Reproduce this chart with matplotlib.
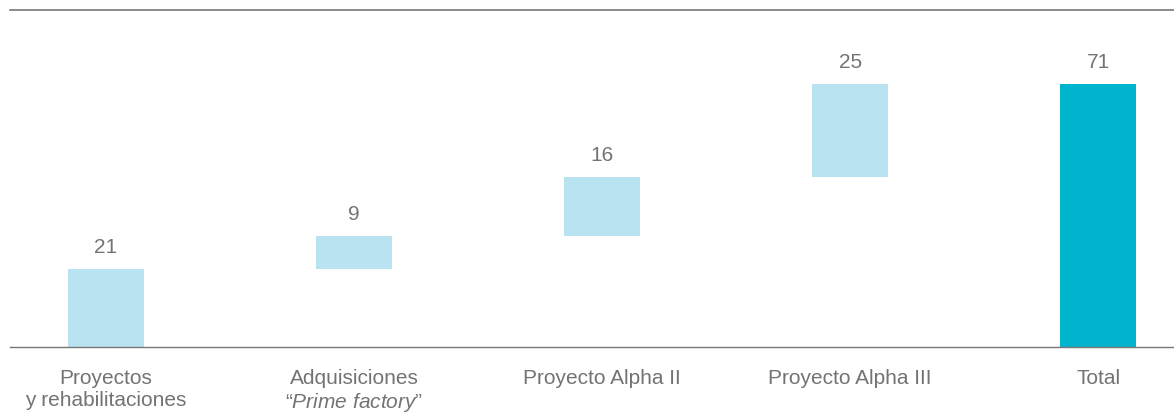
import matplotlib
matplotlib.use("Agg")
import matplotlib.pyplot as plt

plt.rcParams['font.family'] = ['Liberation Sans', 'DejaVu Sans']
plt.rcParams['mathtext.fontset'] = 'custom'
plt.rcParams['mathtext.it'] = 'Liberation Sans:italic'
plt.rcParams['mathtext.rm'] = 'Liberation Sans'

categories = ['Proyectos\ny rehabilitaciones',
              'Adquisiciones\n“$\\mathit{Prime\\ factory}$”',
              'Proyecto Alpha II',
              'Proyecto Alpha III',
              'Total']
values = [21, 9, 16, 25, 71]
is_total = [False, False, False, False, True]

light = '#b9e3f0'
dark = '#00b4ce'
text_color = '#737373'
line_color = '#777777'

fig = plt.figure(figsize=(11.74, 4.13), dpi=100)
ax = fig.add_axes([10/1174, (413-347)/413, 1 - 10/1174, (347-10)/413])

bottoms = []
running = 0
for v, t in zip(values, is_total):
    if t:
        bottoms.append(0)
    else:
        bottoms.append(running)
        running += v

x = list(range(len(values)))
colors = [dark if t else light for t in is_total]
ax.bar(x, values, bottom=bottoms, width=0.306, color=colors, linewidth=0)

for xi, v, b in zip(x, values, bottoms):
    ax.annotate(str(v), (xi, b + v), xytext=(0, 8.5), textcoords='offset points',
                ha='center', va='bottom', fontsize=15, color=text_color)

ax.set_xlim(-0.387, 4.306)
ax.set_ylim(0, 91)
ax.set_yticks([])
ax.set_xticks(x)
ax.set_xticklabels(categories, fontsize=15, color=text_color, linespacing=1.22)
ax.tick_params(axis='x', length=0, pad=15.5)

for s in ['left', 'right']:
    ax.spines[s].set_visible(False)
ax.spines['top'].set_color(line_color)
ax.spines['bottom'].set_color(line_color)
ax.spines['top'].set_linewidth(1.2)
ax.spines['bottom'].set_linewidth(1.0)

fig.savefig('out.png', dpi=100)
